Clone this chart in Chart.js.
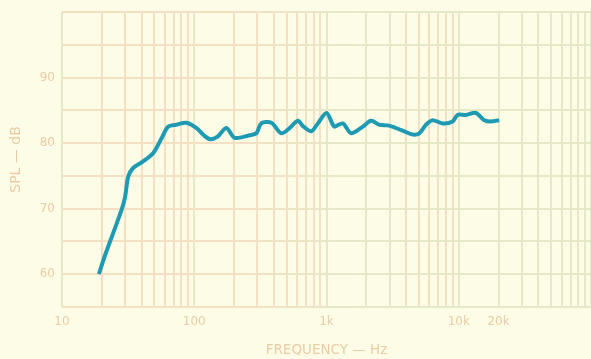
<!DOCTYPE html>
<html><head><meta charset="utf-8">
<script src="https://cdn.jsdelivr.net/npm/chart.js@4/dist/chart.umd.min.js"></script>
<style>html,body{margin:0;padding:0;background:#fdfde7;}#wrap{width:591px;height:359px;}</style>
</head><body><div id="wrap"><canvas id="c" width="591" height="359"></canvas></div>
<script>
// Frequency response data
const frequencies = [19, 21, 24.4, 28.2, 30, 31.7, 34.5, 41, 49, 56.5, 63.4, 73.4, 87, 104, 118, 132, 150, 175, 202, 262, 295, 321, 383, 455, 526, 608, 663, 766, 860, 1000, 1117, 1150, 1328, 1535, 1879, 2173, 2514, 2906, 3358, 3881, 4480, 5035, 5650, 6340, 7545, 8980, 9790, 11300, 13500, 15600, 17500, 20200];
const splValues   = [60.0, 62.7, 66.3, 69.8, 71.8, 74.9, 76.2, 77.2, 78.5, 80.7, 82.5, 82.8, 83.1, 82.3, 81.2, 80.6, 81.0, 82.3, 80.8, 81.2, 81.5, 83.0, 83.1, 81.5, 82.3, 83.4, 82.6, 81.8, 83.0, 84.6, 82.8, 82.5, 83.0, 81.5, 82.5, 83.4, 82.8, 82.7, 82.3, 81.8, 81.3, 81.5, 82.8, 83.5, 83.0, 83.3, 84.3, 84.3, 84.6, 83.5, 83.3, 83.5];
const xLabelValues = [10, 100, 1000, 10000, 20000];
const xLabelTexts  = ['10', '100', '1k', '10k', '20k'];
const yLabelValues = [60, 70, 80, 90];

const ORANGE = '#f5e0c4';
const GREEN = '#e5e9c8';
const TEXT = '#eacba6';

const xGridValues = [];
for (let e = 1; e <= 4; e++) for (let m = 1; m <= 9; m++) xGridValues.push(m * Math.pow(10, e));
xGridValues.push(100000);

function vColor(v) {
  const e = Math.floor(Math.log10(v) + 1e-9);
  const m = Math.round(v / Math.pow(10, e));
  if (m === 1) return GREEN;
  if (e === 1 || e === 2) return ORANGE;
  if (e === 3 && m >= 4) return ORANGE;
  return GREEN;
}
function hColor(ctx) {
  const ca = ctx.chart.chartArea;
  if (!ca) return ORANGE;
  const g = ctx.chart.ctx.createLinearGradient(ca.left, 0, ca.right, 0);
  g.addColorStop(0, ORANGE); g.addColorStop(0.35, ORANGE);
  g.addColorStop(0.55, GREEN); g.addColorStop(1, GREEN);
  return g;
}

const bgPlugin = {
  id: 'bg',
  beforeDraw(chart) {
    const c = chart.ctx; c.save(); c.fillStyle = '#fdfde7';
    c.fillRect(0, 0, chart.width, chart.height); c.restore();
  }
};

new Chart(document.getElementById('c'), {
  type: 'line',
  data: {
    datasets: [{
      data: frequencies.map((f, i) => ({ x: f, y: splValues[i] })),
      borderColor: '#1e9ab3',
      borderWidth: 4,
      pointRadius: 0,
      tension: 0.3,
      fill: false
    }]
  },
  options: {
    responsive: false,
    devicePixelRatio: 1,
    animation: false,
    layout: { padding: { top: 12, right: 0, left: 0, bottom: 0 } },
    plugins: { legend: { display: false }, tooltip: { enabled: false } },
    scales: {
      x: {
        type: 'logarithmic',
        min: 10, max: 100000,
        afterBuildTicks: s => { s.ticks = xGridValues.map(v => ({ value: v })); },
        afterFit: s => { s.height = 52; s.paddingRight = 0; s.paddingLeft = 0; },
        ticks: {
          autoSkip: false, maxRotation: 0, padding: 8,
          color: TEXT, font: { family: 'DejaVu Sans', size: 12 },
          callback: v => { const i = xLabelValues.indexOf(v); return i >= 0 ? xLabelTexts[i] : ''; }
        },
        grid: { color: c => vColor(c.tick ? c.tick.value : 10), lineWidth: 2, drawTicks: false },
        border: { display: false },
        title: { display: true, text: 'FREQUENCY — Hz', color: TEXT, font: { family: 'DejaVu Sans', size: 13.5 }, padding: { top: 0, bottom: 0 } }
      },
      y: {
        type: 'linear',
        min: 55, max: 100,
        afterFit: s => { s.width = 62; s.paddingTop = 0; s.paddingBottom = 0; },
        ticks: {
          stepSize: 5, padding: 7,
          color: TEXT, font: { family: 'DejaVu Sans', size: 12 },
          callback: v => yLabelValues.includes(v) ? String(v) : ''
        },
        grid: { color: hColor, lineWidth: 2, drawTicks: false },
        border: { display: false },
        title: { display: true, text: 'SPL — dB', color: TEXT, font: { family: 'DejaVu Sans', size: 14 }, padding: { top: 8, bottom: 0 } }
      }
    }
  },
  plugins: [bgPlugin]
});
</script></body></html>
